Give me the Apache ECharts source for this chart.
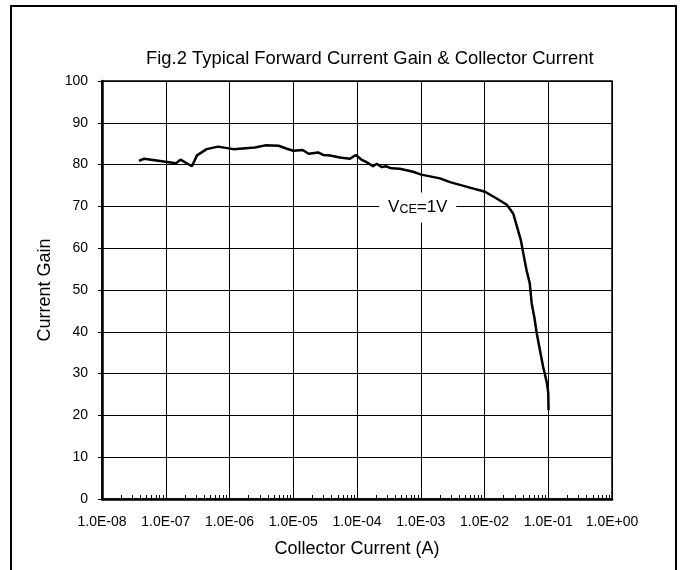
<!DOCTYPE html>
<html>
<head>
<meta charset="utf-8">
<title>Fig.2 Typical Forward Current Gain & Collector Current</title>
<script src="https://cdn.jsdelivr.net/npm/echarts@6/dist/echarts.min.js"></script>
<style>
  html, body { margin: 0; padding: 0; background: #fff; }
  #main { width: 684px; height: 570px; }
</style>
</head>
<body>
<div id="main"></div>
<script>
// collector current (A)
var collectorCurrent = [
  3.80e-8, 4.57e-8, 1.45e-7, 1.70e-7, 2.57e-7, 3.09e-7, 4.37e-7, 6.61e-7,
  1.15e-6, 2.51e-6, 3.63e-6, 5.89e-6, 7.94e-6, 1.00e-5, 1.41e-5, 1.74e-5,
  2.45e-5, 2.95e-5, 3.80e-5, 5.37e-5, 7.76e-5, 9.55e-5, 1.17e-4, 1.41e-4,
  1.78e-4, 2.04e-4, 2.45e-4, 2.82e-4, 3.47e-4, 4.68e-4, 7.59e-4, 1.02e-3,
  2.00e-3, 2.88e-3, 5.89e-3, 1.02e-2, 1.55e-2, 2.24e-2, 2.82e-2, 3.24e-2,
  3.72e-2, 4.07e-2, 4.57e-2, 5.13e-2, 5.50e-2, 6.03e-2, 6.61e-2, 7.41e-2,
  8.32e-2, 9.55e-2, 1.00e-1, 1.01e-1
];
// current gain (hFE) at VCE = 1V
var currentGain = [
  80.9, 81.4, 80.3, 81.2, 79.6, 82.2, 83.7, 84.3,
  83.7, 84.1, 84.6, 84.5, 83.8, 83.3, 83.5, 82.6,
  82.9, 82.3, 82.2, 81.7, 81.4, 82.3, 81.2, 80.6,
  79.6, 80.2, 79.4, 79.6, 79.1, 79.0, 78.3, 77.6,
  76.7, 75.8, 74.5, 73.5, 71.9, 70.4, 68.3, 65.1,
  61.9, 58.7, 54.7, 51.6, 46.8, 43.6, 39.6, 35.6,
  31.6, 27.7, 25.3, 21.3
];
var xTickLabels = ['1.0E-08', '1.0E-07', '1.0E-06', '1.0E-05', '1.0E-04',
  '1.0E-03', '1.0E-02', '1.0E-01', '1.0E+00'];
// minor ticks 2..9 of every decade
var minorTicks = [];
for (var e = -8; e < 0; e++) {
  for (var m = 2; m <= 9; m++) minorTicks.push(m * Math.pow(10, e));
}
var curveLabel = { x: 1e-3, y: 70 };

var font = 'Liberation Sans, Arial, sans-serif';
var points = collectorCurrent.map(function (c, i) { return [c, currentGain[i]]; });

var chart = echarts.init(document.getElementById('main'));
var option = {
  animation: false,
  backgroundColor: '#fff',
  textStyle: { fontFamily: font, color: '#000' },
  title: {
    text: 'Fig.2 Typical Forward Current Gain & Collector Current',
    left: 146,
    top: 50,
    padding: 0,
    textStyle: { fontFamily: font, fontSize: 18.4, fontWeight: 'normal', color: '#000' }
  },
  graphic: [
    {
      // outer frame
      type: 'rect',
      shape: { x: 11, y: 6, width: 665, height: 580 },
      style: { fill: 'none', stroke: '#000', lineWidth: 2 },
      silent: true
    }
  ],
  grid: {
    left: 102, right: 72, top: 81, bottom: 71,
    show: true, borderColor: '#000', borderWidth: 1.5
  },
  xAxis: [
    {
      type: 'log',
      logBase: 10,
      min: 1e-8,
      max: 1,
      name: 'Collector Current (A)',
      nameLocation: 'middle',
      nameGap: 41,
      nameTextStyle: { fontFamily: font, fontSize: 18, color: '#000' },
      axisLine: { lineStyle: { color: '#000', width: 2.5 } },
      axisTick: { show: false },
      axisLabel: {
        fontFamily: font, fontSize: 14, color: '#000', margin: 16,
        formatter: function (v) {
          var i = Math.round(Math.log10(v)) + 8;
          return xTickLabels[i] || '';
        }
      },
      splitLine: { show: true, lineStyle: { color: '#000', width: 1 } }
    },
    {
      // second axis only for the minor ticks
      type: 'log',
      logBase: 10,
      min: 1e-8,
      max: 1,
      position: 'bottom',
      axisLine: { show: false },
      axisTick: {
        show: true, inside: true, length: 4,
        customValues: minorTicks,
        lineStyle: { color: '#000', width: 1 }
      },
      axisLabel: { show: false },
      splitLine: { show: false }
    }
  ],
  yAxis: {
    type: 'value',
    min: 0,
    max: 100,
    interval: 10,
    name: 'Current Gain',
    nameLocation: 'middle',
    nameGap: 47,
    nameTextStyle: { fontFamily: font, fontSize: 18, color: '#000' },
    axisLine: { show: true, lineStyle: { color: '#000', width: 2.5 } },
    axisTick: { show: true, length: 4, lineStyle: { color: '#000', width: 1 } },
    axisLabel: { fontFamily: font, fontSize: 14, color: '#000', margin: 14, padding: [3, 0, 0, 0] },
    splitLine: { show: true, lineStyle: { color: '#000', width: 1 } }
  },
  series: [
    {
      type: 'line',
      data: points,
      showSymbol: false,
      symbol: 'none',
      lineStyle: { color: '#000', width: 2.5 },
      markPoint: {
        symbol: 'rect',
        symbolSize: [77, 30],
        symbolOffset: [-3, 1],
        itemStyle: { color: '#fff' },
        label: {
          show: true,
          position: 'inside',
          formatter: '{a|V}{b|CE}{a|=1V}',
          rich: {
            a: { fontFamily: font, fontSize: 17, color: '#000' },
            b: { fontFamily: font, fontSize: 12.5, color: '#000', verticalAlign: 'bottom' }
          }
        },
        data: [{ coord: [curveLabel.x, curveLabel.y] }]
      }
    }
  ]
};
chart.setOption(option);
</script>
</body>
</html>
